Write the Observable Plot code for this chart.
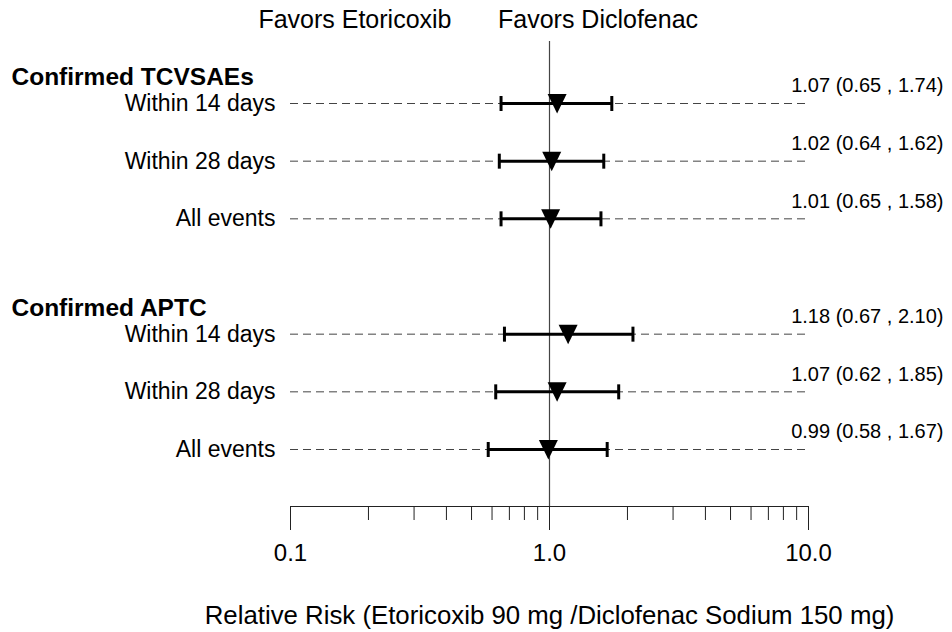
<!DOCTYPE html>
<html>
<head>
<meta charset="utf-8">
<script src="https://cdn.jsdelivr.net/npm/d3@7"></script>
<script src="https://cdn.jsdelivr.net/npm/@observablehq/plot@0.6"></script>
<style>
  html, body { margin: 0; padding: 0; background: #fff; }
</style>
</head>
<body>
<div id="chart"></div>
<script>
// Endpoint groups and the rows shown under each
const groups = ["Confirmed TCVSAEs", "Confirmed APTC"];
const rowLabels = ["Within 14 days", "Within 28 days", "All events"];

// Relative risk and 95% confidence limits, one list per group
const relRisk = [[1.07, 1.02, 1.01], [1.18, 1.07, 0.99]];
const ciLow   = [[0.65, 0.64, 0.65], [0.67, 0.62, 0.58]];
const ciHigh  = [[1.74, 1.62, 1.58], [2.10, 1.85, 1.67]];

// Log axis ticks
const majorTicks = [0.1, 1, 10];
const majorTickLabels = ["0.1", "1.0", "10.0"];
const minorTicks = [0.2, 0.3, 0.4, 0.5, 0.6, 0.7, 0.8, 0.9, 2, 3, 4, 5, 6, 7, 8, 9];

const noEffect = 1;
const favorLabels = ["Favors Etoricoxib", "Favors Diclofenac"];
const xTitle = "Relative Risk (Etoricoxib 90 mg /Diclofenac Sodium 150 mg)";

// Each group takes three row slots plus one blank slot before the next group
const rows = [];
groups.forEach((group, g) => {
  rowLabels.forEach((label, r) => {
    rows.push({group, label, slot: g * 4 + r, rr: relRisk[g][r], lo: ciLow[g][r], hi: ciHigh[g][r]});
  });
});
const headers = groups.map((name, g) => ({name, slot: g * 4}));

const fmt = v => v.toFixed(2);

// Downward-pointing triangle for the point estimate
const triangleDown = {
  draw(ctx, size) {
    const r = Math.sqrt(size / Math.PI);
    ctx.moveTo(-r, -r);
    ctx.lineTo(r, -r);
    ctx.lineTo(0, r * 1.05);
    ctx.closePath();
  }
};
// Short vertical stroke for the confidence-interval caps
const capLine = {
  draw(ctx, size) {
    const r = Math.sqrt(size / Math.PI);
    ctx.moveTo(0, -r);
    ctx.lineTo(0, r);
  }
};

const font = "'Liberation Sans', Arial, Helvetica, sans-serif";

const chart = Plot.plot({
  width: 952,
  height: 632,
  marginLeft: 290,
  marginRight: 144,
  marginTop: 41,
  marginBottom: 126,
  x: {type: "log", domain: [0.1, 10]},
  y: {domain: [0, 6], range: [103, 449], axis: null},
  style: {fontFamily: font, fontSize: "20px", color: "#000", background: "#fff", overflow: "visible"},
  marks: [
    // dashed guide across each row
    Plot.ruleY(rows, {y: "slot", stroke: "#444", strokeWidth: 1, strokeDasharray: "8,5"}),
    // line of no effect
    Plot.ruleX([noEffect], {stroke: "#444", strokeWidth: 1.2}),
    // axis baseline and ticks
    Plot.frame({anchor: "bottom", stroke: "#222"}),
    Plot.axisX({ticks: minorTicks, tickSize: 14, tickFormat: () => "", label: null, stroke: "#222"}),
    Plot.axisX({
      ticks: majorTicks, tickSize: 24, tickPadding: 13, label: null,
      tickFormat: d => majorTickLabels[majorTicks.indexOf(d)],
      fontSize: 24, stroke: "#222", fill: "#000"
    }),
    // confidence intervals
    Plot.ruleY(rows, {y: "slot", x1: "lo", x2: "hi", stroke: "#000", strokeWidth: 3}),
    Plot.dot(rows, {x: "lo", y: "slot", symbol: capLine, r: 7.5, stroke: "#000", strokeWidth: 3, fill: "none"}),
    Plot.dot(rows, {x: "hi", y: "slot", symbol: capLine, r: 7.5, stroke: "#000", strokeWidth: 3, fill: "none"}),
    // point estimates
    Plot.dot(rows, {x: "rr", y: "slot", symbol: triangleDown, r: 9.5, fill: "#000", stroke: "none"}),
    // row labels
    Plot.text(rows, {y: "slot", text: "label", frameAnchor: "left", textAnchor: "end", dx: -15, fontSize: 23, fill: "#000"}),
    // estimate and interval text
    Plot.text(rows, {
      y: "slot", text: d => `${fmt(d.rr)} (${fmt(d.lo)} , ${fmt(d.hi)})`,
      frameAnchor: "right", textAnchor: "end", dx: 135, dy: -17.5, fontSize: 20, fill: "#000"
    }),
    // group headers
    Plot.text(headers, {
      y: "slot", text: "name", frameAnchor: "left", textAnchor: "start",
      dx: -279, dy: -26, fontSize: 24.5, fontWeight: "bold", fill: "#000"
    }),
    // direction labels above the plot
    Plot.text([favorLabels[0]], {
      x: () => noEffect, text: d => d, frameAnchor: "top", lineAnchor: "middle",
      textAnchor: "end", dx: -98, dy: -22, fontSize: 25, fill: "#000"
    }),
    Plot.text([favorLabels[1]], {
      x: () => noEffect, text: d => d, frameAnchor: "top", lineAnchor: "middle",
      textAnchor: "start", dx: -51.5, dy: -22, fontSize: 25, fill: "#000"
    }),
    // axis title
    Plot.text([xTitle], {
      text: d => d, frameAnchor: "bottom", lineAnchor: "middle", dy: 109, fontSize: 25.8, fill: "#000"
    })
  ]
});

document.getElementById("chart").appendChild(chart);
</script>
</body>
</html>
